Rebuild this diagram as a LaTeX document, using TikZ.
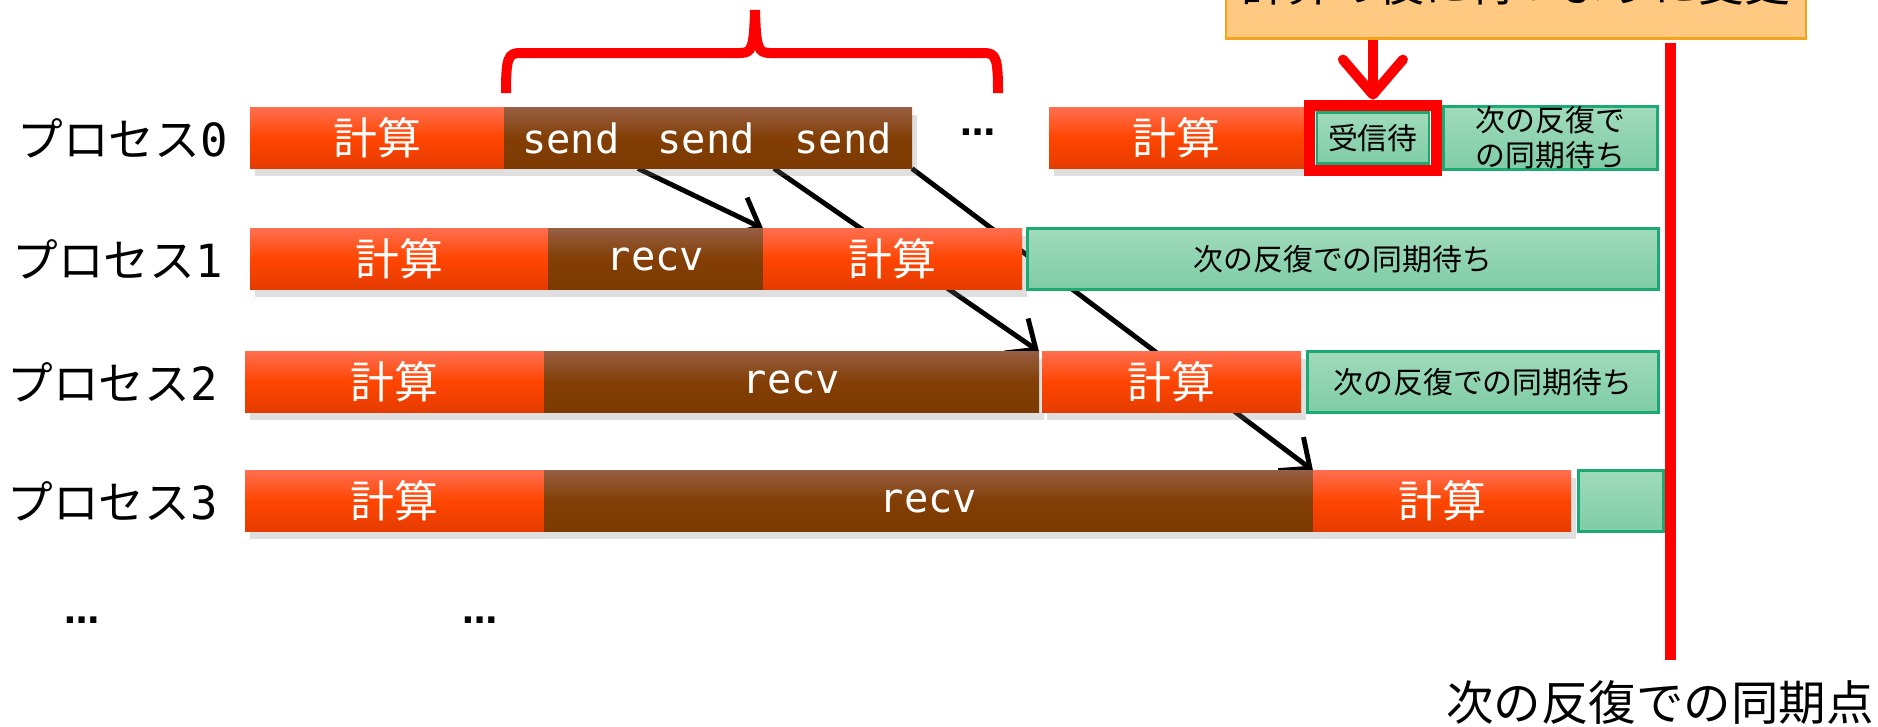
\documentclass[tikz,border=0pt]{standalone}
\usepackage{fontspec}
\setmainfont{Noto Sans CJK JP}
\newfontfamily\codefont{DejaVu Sans Mono}
\newfontfamily\dotfont{DejaVu Sans}
\usetikzlibrary{calc,positioning,fit,shadows,backgrounds,arrows.meta}

\definecolor{calcTop}{HTML}{FF6E4F}
\definecolor{calcMid}{HTML}{FF4500}
\definecolor{calcBot}{HTML}{E43C00}
\definecolor{commTop}{HTML}{975E42}
\definecolor{commMid}{HTML}{823E05}
\definecolor{commBot}{HTML}{7C3A00}
\definecolor{waitTop}{HTML}{A0DBBB}
\definecolor{waitBot}{HTML}{7FCCA6}
\definecolor{waitLine}{HTML}{1DAA72}
\definecolor{noteFill}{HTML}{FFC981}
\definecolor{noteLine}{HTML}{F5A31A}

\begin{document}
\begin{tikzpicture}[x=0.1mm,y=-0.1mm,
  box/.style={minimum height=6.1mm, inner sep=0pt, outer sep=0pt,
    drop shadow={shadow xshift=0.5mm, shadow yshift=-0.7mm, opacity=0.25}},
  calcbox/.style={box, top color=calcTop, bottom color=calcBot, middle color=calcMid,
    text=white, font=\fontsize{12.5}{14}\selectfont},
  commbox/.style={box, top color=commTop, bottom color=commBot, middle color=commMid,
    text=white, font=\codefont\fontsize{11.5}{13}\selectfont},
  waitbox/.style={minimum height=6.1mm, inner sep=0pt, draw=waitLine, line width=0.8pt,
    top color=waitTop, bottom color=waitBot, font=\fontsize{8.5}{10}\selectfont},
  proc/.style={font=\fontsize{13}{15}\selectfont},
  dots/.style={font=\dotfont\bfseries\fontsize{10}{12}\selectfont},
  msg/.style={-{Straight Barb[length=2.4mm,width=4.2mm]}, line width=1.4pt},
  redarrow/.style={red, line width=1mm, -{Straight Barb[round,length=3.5mm,width=6mm]}}]
  \useasboundingbox (0,0) rectangle (1878,726);

  %% Process 0: compute, three sends, ..., compute, wait
  \node[calcbox, minimum width=25.4mm, anchor=west] (K0a) at (250,138) {計算};
  \node[commbox, minimum width=13.4mm, right=0pt of K0a] (S1) {send};
  \node[commbox, minimum width=13.6mm, right=0pt of S1] (S2) {send};
  \node[commbox, minimum width=13.8mm, right=0pt of S2] (S3) {send};
  \node[dots] (D0) at (978,132) {…};
  \node[calcbox, minimum width=25.5mm, anchor=west] (K0b) at (1049,138) {計算};
  \node[waitbox, minimum width=11.2mm, minimum height=5.1mm, right=1.15mm of K0b] (W0a) {受信待};
  \node[draw=red, line width=1.1mm, inner sep=0.6mm, fit=(W0a)] (RECV) {};
  \node[waitbox, minimum width=21.4mm, align=center, right=0pt of RECV] (W0b) {次の反復で\\の同期待ち};

  %% Process 1
  \node[calcbox, minimum width=29.8mm, anchor=west] (K1a) at (250,259) {計算};
  \node[commbox, minimum width=21.5mm, right=0pt of K1a] (R1) {recv};
  \node[calcbox, minimum width=25.9mm, right=0pt of R1] (K1b) {計算};
  \node[waitbox, minimum width=63.1mm, right=0.4mm of K1b] (W1) {次の反復での同期待ち};

  %% Process 2
  \node[calcbox, minimum width=29.9mm, anchor=west] (K2a) at (245,382) {計算};
  \node[commbox, minimum width=49.5mm, right=0pt of K2a] (R2) {recv};
  \node[calcbox, minimum width=25.9mm, right=0.3mm of R2] (K2b) {計算};
  \node[waitbox, minimum width=35.1mm, right=0.5mm of K2b] (W2) {次の反復での同期待ち};

  %% Process 3
  \node[calcbox, minimum width=29.9mm, anchor=west] (K3a) at (245,501) {計算};
  \node[commbox, minimum width=76.9mm, right=0pt of K3a] (R3) {recv};
  \node[calcbox, minimum width=25.8mm, right=0pt of R3] (K3b) {計算};
  \node[waitbox, minimum width=8.5mm, right=0.6mm of K3b] (W3) {};

  %% Process labels
  \node[proc, left=1mm of K0a] (P0) {プロセス{\codefont 0}};
  \node[proc, left=1.5mm of K1a] (P1) {プロセス{\codefont 1}};
  \node[proc, left=1.5mm of K2a] (P2) {プロセス{\codefont 2}};
  \node[proc, left=1.5mm of K3a] (P3) {プロセス{\codefont 3}};
  \node[dots] (D1) at (82,620) {…};
  \node[dots] (D2) at (480,620) {…};

  %% Messages from the sends
  \begin{scope}[on background layer]
    \draw[msg] (S1.south east) -- (R1.north east);
    \draw[msg] (S2.south east) -- (R2.north east);
    \draw[msg] (S3.south east) -- (R3.north east);
  \end{scope}

  %% Brace over the sends
  \draw[red, line width=1mm] (506,93) .. controls (506,58) and (508,53) .. (520,53)
    -- (740,53) .. controls (752,53) and (754,48) .. (755,10)
    .. controls (756,48) and (758,53) .. (770,53)
    -- (984,53) .. controls (996,53) and (998,58) .. (998,93);

  %% Note and red arrow
  \node[draw=noteLine, fill=noteFill, line width=0.8pt, minimum width=58mm,
        minimum height=11mm, anchor=south, font=\fontsize{13}{15}\selectfont]
        (NOTE) at (1516,40) {計算の後に待つように変更};
  \draw[redarrow] (NOTE.south -| RECV.north) -- (RECV.north);

  %% Synchronisation point
  \coordinate (SYNCTOP) at (1670,43);
  \coordinate (SYNCBOT) at (1670,660);
  \draw[red, line width=1.1mm] (SYNCTOP) -- (SYNCBOT);
  \node[font=\fontsize{13.5}{16}\selectfont, anchor=north] (SYNC) at (1660,668) {次の反復での同期点};
\end{tikzpicture}
\end{document}
